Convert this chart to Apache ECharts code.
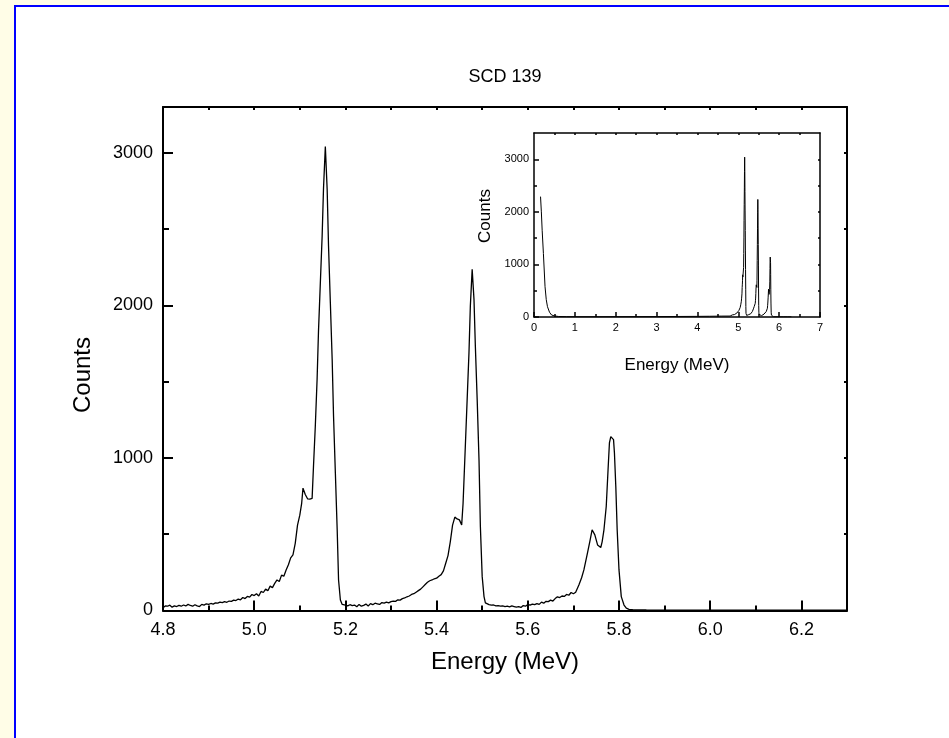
<!DOCTYPE html>
<html><head><meta charset="utf-8">
<script src="https://cdn.jsdelivr.net/npm/echarts@6/dist/echarts.min.js"></script>
<style>
html,body{margin:0;padding:0;background:#FFFDE7;width:949px;height:738px;overflow:hidden}
#panel{position:absolute;left:14px;top:5px;width:1000px;height:800px;background:#fff;border-left:2px solid #0000FF;border-top:2px solid #0000FF;box-sizing:border-box}
#chart{position:absolute;left:0;top:0;width:949px;height:738px}
</style></head><body><div id="panel"></div><div id="chart"></div>
<script>
// ---- data ----
const mainEnergy = [
4.800,4.805,4.810,4.815,4.820,4.825,4.830,4.835,4.840,4.845,4.850,4.855,4.860,4.865,4.870,4.875,4.880,4.885,4.890,4.895,
4.900,4.905,4.910,4.915,4.920,4.925,4.930,4.935,4.940,4.945,4.950,4.955,4.960,4.965,4.970,4.975,4.980,4.985,4.990,4.995,
5.000,5.005,5.010,5.015,5.020,5.025,5.030,5.035,5.040,5.045,5.050,5.055,5.060,5.065,5.070,5.075,5.080,5.085,5.090,5.095,
5.100,5.104,5.107,5.112,5.117,5.122,5.127,5.130,5.134,5.138,5.141,5.145,5.149,5.152,5.156,5.160,5.163,5.167,5.171,5.174,
5.178,5.182,5.185,5.189,5.193,
5.200,5.205,5.210,5.215,5.220,5.225,5.230,5.235,5.240,5.245,5.250,5.255,5.260,5.265,5.270,5.275,5.280,5.285,5.290,5.295,
5.300,5.305,5.310,5.315,5.320,5.325,5.330,5.335,5.340,5.345,5.350,5.355,5.360,5.365,5.370,5.375,5.380,5.385,5.390,5.395,
5.400,5.405,5.410,5.415,5.420,5.425,5.430,5.435,5.440,5.445,5.450,5.455,5.458,5.463,5.467,5.471,5.474,5.478,5.482,5.485,
5.489,5.493,5.496,5.500,5.504,5.507,5.511,
5.515,5.520,5.525,5.530,5.535,5.540,5.545,5.550,5.555,5.560,5.565,5.570,5.575,5.580,5.585,5.590,5.595,
5.600,5.605,5.610,5.615,5.620,5.625,5.630,5.635,5.640,5.645,5.650,5.655,5.660,5.665,5.670,5.675,5.680,5.685,5.690,5.695,
5.700,5.705,5.712,5.718,5.723,5.730,5.736,5.741,5.747,5.753,5.760,5.763,5.767,5.772,5.776,5.779,5.782,5.785,5.788,5.790,
5.793,5.796,5.800,5.805,5.811,5.816,5.822,5.830,5.860,5.900,6.000,6.100,6.200,6.300
];
const mainCounts = [
18,30,28,35,22,30,26,34,28,36,30,40,33,28,38,30,26,40,35,44,
40,46,42,50,48,55,52,58,54,62,60,68,65,75,70,85,78,92,88,105,
98,110,95,125,118,140,130,160,150,178,200,190,232,225,265,300,345,365,440,560,
625,700,802,760,732,730,735,944,1207,1520,1831,2144,2455,2767,3041,2761,2389,2017,1645,1273,
901,529,200,69,40,
35,30,38,32,36,25,40,28,34,42,30,45,38,48,44,40,52,48,55,50,
58,62,60,70,68,78,82,90,95,105,110,120,130,140,155,170,185,195,200,208,
212,225,235,260,310,360,450,560,612,600,594,561,700,1076,1382,1690,1995,2236,2039,1732,
1382,988,550,222,91,50,42,
38,35,36,30,32,28,30,26,28,24,30,26,22,25,20,32,28,
40,35,42,38,45,40,55,48,60,58,68,62,78,90,85,95,92,105,100,118,
110,120,167,215,266,364,452,529,496,430,413,450,529,682,922,1098,1140,1146,1120,1032,
813,529,266,91,36,15,8,5,4,3,3,3,3,3
];
// full-range spectrum for the inset (low-energy part; the rest reuses the main arrays)
const insetLowEnergy = [0.16,0.18,0.20,0.23,0.27,0.30,0.33,0.38,0.43,0.50,0.60,0.80,1.0,1.5,2.0,2.5,3.0,3.5,4.0,4.3,4.6];
const insetLowCounts = [2290,2000,1650,1209,576,330,196,90,38,20,10,6,5,5,6,7,8,10,12,14,17];

// ---- ticks ----
const mainXMajor = [4.8,5.0,5.2,5.4,5.6,5.8,6.0,6.2];
const mainXMinor = [4.9,5.1,5.3,5.5,5.7,5.9,6.1];
const mainXTop = [4.9,5.0,5.1,5.2,5.3,5.4,5.5,5.6,5.7,5.8,5.9,6.0,6.1,6.2];
const mainYMajor = [0,1000,2000,3000];
const mainYMinor = [500,1500,2500];
const mainYRight = [500,1000,1500,2000,2500,3000];
const insetXMajor = [0,1,2,3,4,5,6,7];
const insetXMinor = [0.5,1.5,2.5,3.5,4.5,5.5,6.5];
const insetXTop = [0.5,1,1.5,2,2.5,3,3.5,4,4.5,5,5.5,6,6.5];
const insetYMajor = [0,1000,2000,3000];
const insetYMinor = [500,1500,2500];
const insetYRight = [500,1000,1500,2000,2500,3000];

const FONT = '"Liberation Sans", Arial, sans-serif';
const BLACK = '#000';

function ax(o){
  const a = {
    type:'value', gridIndex:o.grid, position:o.pos, min:o.min, max:o.max,
    axisLine:{show:!!o.line, onZero:false, lineStyle:{color:BLACK,width:o.lw||2}},
    axisTick:{show:true, inside:true, length:o.tl, customValues:o.ticks, lineStyle:{color:BLACK,width:o.lw||2}},
    axisLabel:{show:!!o.labels},
    splitLine:{show:false}, minorTick:{show:false}, minorSplitLine:{show:false}
  };
  if (o.labels) {
    a.axisLabel = {show:true, customValues:o.ticks, formatter:o.fmt, color:BLACK, fontSize:o.fs, fontFamily:FONT, margin:o.margin};
  }
  if (o.name) {
    a.name = o.name; a.nameLocation='middle'; a.nameGap=o.gap;
    a.nameTextStyle = {color:BLACK, fontSize:o.nfs, fontFamily:FONT};
  }
  return a;
}
const fmt1 = v => v.toFixed(1);
const fmt0 = v => String(Math.round(v));

const mainRect = {left:163, top:107, width:684, height:503.5};
const insetRect = {left:534, top:133, width:286, height:184};

const mainData = mainEnergy.map((e,i)=>[e, mainCounts[i]]);
const insetData = insetLowEnergy.map((e,i)=>[e, insetLowCounts[i]]).concat(mainData);

const option = {
  animation:false,
  backgroundColor:'transparent',
  grid:[
    Object.assign({outerBoundsMode:'none'}, mainRect),
    Object.assign({outerBoundsMode:'none'}, mainRect),
    Object.assign({outerBoundsMode:'none'}, insetRect),
    Object.assign({outerBoundsMode:'none'}, insetRect)
  ],
  xAxis:[
    ax({grid:0,pos:'bottom',min:4.8,max:6.3,line:true,tl:10,ticks:mainXMajor,labels:true,fmt:fmt1,fs:18,margin:11,name:'Energy (MeV)',gap:40,nfs:24}),
    ax({grid:0,pos:'top',min:4.8,max:6.3,line:true,tl:3,ticks:mainXTop}),
    ax({grid:1,pos:'bottom',min:4.8,max:6.3,line:false,tl:5,ticks:mainXMinor}),
    ax({grid:2,pos:'bottom',min:0,max:7,line:true,lw:1.5,tl:5,ticks:insetXMajor,labels:true,fmt:fmt0,fs:11,margin:5,name:'Energy (MeV)',gap:40,nfs:17}),
    ax({grid:2,pos:'top',min:0,max:7,line:true,lw:1.5,tl:2,ticks:insetXTop}),
    ax({grid:3,pos:'bottom',min:0,max:7,line:false,lw:1.5,tl:3,ticks:insetXMinor})
  ],
  yAxis:[
    ax({grid:0,pos:'left',min:0,max:3300,line:true,tl:10,ticks:mainYMajor,labels:true,fmt:fmt0,fs:18,margin:10}),
    ax({grid:0,pos:'right',min:0,max:3300,line:true,tl:3,ticks:mainYRight}),
    ax({grid:1,pos:'left',min:0,max:3300,line:false,tl:6,ticks:mainYMinor}),
    ax({grid:2,pos:'left',min:0,max:3500,line:true,lw:1.5,tl:5,ticks:insetYMajor,labels:true,fmt:fmt0,fs:11,margin:5}),
    ax({grid:2,pos:'right',min:0,max:3500,line:true,lw:1.5,tl:2,ticks:insetYRight}),
    ax({grid:3,pos:'left',min:0,max:3500,line:false,lw:1.5,tl:3,ticks:insetYMinor})
  ],
  graphic:[
    {type:'text', x:505, y:77, style:{text:'SCD 139', fill:BLACK, font:'18px '+FONT, textAlign:'center', textVerticalAlign:'middle'}},
    {type:'text', x:83, y:375, rotation:Math.PI/2, style:{text:'Counts', fill:BLACK, font:'24px '+FONT, textAlign:'center', textVerticalAlign:'middle'}},
    {type:'text', x:485, y:216, rotation:Math.PI/2, style:{text:'Counts', fill:BLACK, font:'17px '+FONT, textAlign:'center', textVerticalAlign:'middle'}}
  ],
  series:[
    {type:'line', xAxisIndex:0, yAxisIndex:0, data:mainData, showSymbol:false, symbol:'none', lineStyle:{color:BLACK,width:1.3}, clip:true, z:3},
    {type:'line', xAxisIndex:3, yAxisIndex:3, data:insetData, showSymbol:false, symbol:'none', lineStyle:{color:BLACK,width:1}, clip:true, z:3}
  ]
};
const chart = echarts.init(document.getElementById('chart'), null, {renderer:'canvas'});
chart.setOption(option);
</script></body></html>
